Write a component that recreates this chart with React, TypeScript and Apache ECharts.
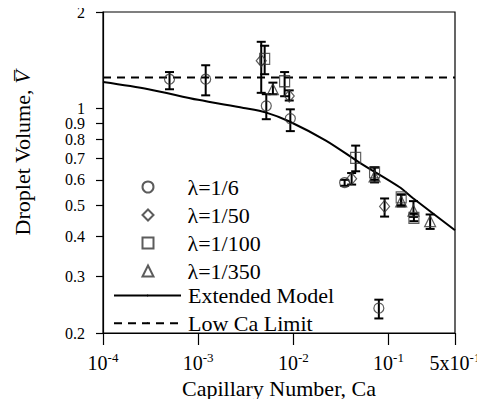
import React, { useEffect, useRef } from "react";
import * as echarts from "echarts";

// [Ca, V, low, high]
const lambda6: number[][] = [
  [5.0e-4, 1.235, 1.149, 1.3],
  [1.2e-3, 1.235, 1.1, 1.365],
  [5.2e-3, 1.02, 0.927, 1.109],
  [9.3e-3, 0.931, 0.851, 0.995],
  [0.0346, 0.588, 0.575, 0.6],
  [0.0792, 0.239, 0.222, 0.254],
];
const lambda50: number[][] = [
  [4.6e-3, 1.41, 1.12, 1.615],
  [9.06e-3, 1.095, 1.06, 1.14],
  [0.041, 0.605, 0.58, 0.63],
  [0.091, 0.496, 0.461, 0.525],
];
const lambda100: number[][] = [
  [5.0e-3, 1.43, 1.28, 1.57],
  [8.1e-3, 1.217, 1.093, 1.3],
  [0.0452, 0.703, 0.638, 0.767],
  [0.0714, 0.633, 0.6, 0.656],
  [0.136, 0.529, 0.5, 0.54],
  [0.185, 0.457, 0.446, 0.47],
];
const lambda350: number[][] = [
  [6.1e-3, 1.149, 1.109, 1.205],
  [0.0714, 0.615, 0.589, 0.656],
  [0.136, 0.514, 0.496, 0.54],
  [0.183, 0.481, 0.46, 0.515],
  [0.274, 0.446, 0.422, 0.468],
];
const modelCurve: number[][] = [
  [1e-4, 1.21],
  [3e-4, 1.15],
  [1e-3, 1.065],
  [3e-3, 1.005],
  [5.2e-3, 0.972],
  [9.1e-3, 0.912],
  [0.022, 0.795],
  [0.05, 0.678],
  [0.13, 0.57],
  [0.18, 0.527],
  [0.5, 0.418],
];
const lowCaLimit: number[][] = [
  [1e-4, 1.25],
  [0.5, 1.25],
];
const xTicks = [1e-4, 1e-3, 1e-2, 1e-1, 0.5];
const yTicks = [0.2, 0.3, 0.4, 0.5, 0.6, 0.7, 0.8, 0.9, 1, 2];
const markerNames = ["λ=1/6", "λ=1/50", "λ=1/100", "λ=1/350"];
const lineNames = ["Extended Model", "Low Ca Limit"];

const FONT = "'Liberation Serif', 'Times New Roman', serif";
const INK = "#000";
const MARK = "#333";

function xLabel(v: number): string {
  if (Math.abs(v - 0.5) < 1e-6) return "{b|5x10}{s|-1}";
  const e = Math.round(Math.log10(v));
  return "{b|10}{s|" + e + "}";
}
function yLabel(v: number): string {
  return String(Math.round(v * 10) / 10);
}

function errorBarSeries(data: number[][], z: number) {
  return {
    type: "custom",
    z,
    silent: true,
    data,
    encode: { x: 0, y: [1, 2, 3] },
    renderItem: (params: any, api: any) => {
      const x = api.value(0);
      const lo = api.coord([x, api.value(2)]);
      const hi = api.coord([x, api.value(3)]);
      const w = 4.5;
      const st = { stroke: INK, lineWidth: 2 };
      return {
        type: "group",
        children: [
          { type: "line", shape: { x1: lo[0], y1: lo[1], x2: hi[0], y2: hi[1] }, style: st },
          { type: "line", shape: { x1: lo[0] - w, y1: lo[1], x2: lo[0] + w, y2: lo[1] }, style: st },
          { type: "line", shape: { x1: hi[0] - w, y1: hi[1], x2: hi[0] + w, y2: hi[1] }, style: st },
        ],
      };
    },
  };
}

function scatter(name: string, data: number[][], symbol: string, size: any) {
  return {
    name,
    type: "scatter",
    z: 5,
    data: data.map((d) => [d[0], d[1]]),
    symbol,
    symbolSize: size,
    itemStyle: { color: "rgba(255,255,255,0)", borderColor: MARK, borderWidth: 1.2 },
  };
}

const legendText = { fontFamily: FONT, fontSize: 22, color: INK, lineHeight: 21 };

export default function App() {
  const ref = useRef<HTMLDivElement>(null);
  useEffect(() => {
    if (!ref.current) return;
    const chart = echarts.init(ref.current, null, { renderer: "svg" });
    chart.setOption({
      animation: false,
      textStyle: { fontFamily: FONT, color: INK },
      grid: { left: 103, right: 30, top: 12, bottom: 74, show: true, borderColor: INK, borderWidth: 1.2, backgroundColor: "transparent" },
      legend: [
        {
          data: markerNames,
          orient: "vertical",
          left: 141.5,
          top: 176,
          padding: 0,
          itemWidth: 11,
          itemHeight: 11,
          itemGap: 6,
          textStyle: { ...legendText, padding: [0, 0, 0, 29] },
          selectedMode: false,
        },
        {
          data: lineNames,
          orient: "vertical",
          left: 113,
          top: 284.5,
          padding: 0,
          itemWidth: 67,
          itemHeight: 2,
          itemGap: 5.7,
          textStyle: { ...legendText, padding: [0, 0, 0, 2] },
          selectedMode: false,
        },
      ],
      xAxis: {
        type: "log",
        logBase: 10,
        min: 1e-4,
        max: 0.5,
        axisLine: { lineStyle: { color: INK, width: 1.2 } },
        axisTick: { customValues: xTicks, length: 12, lineStyle: { color: INK, width: 1.2 } },
        minorTick: { show: false },
        splitLine: { show: false },
        axisLabel: {
          customValues: xTicks,
          margin: 18,
          formatter: (v: number) => xLabel(v),
          rich: {
            b: { fontFamily: FONT, fontSize: 20, color: INK },
            s: { fontFamily: FONT, fontSize: 13, color: INK, verticalAlign: "top", padding: [0, 0, 10, 0] },
          },
        },
        name: "Capillary Number, Ca",
        nameLocation: "middle",
        nameGap: 40,
        nameTextStyle: { fontFamily: FONT, fontSize: 22, color: INK },
      },
      yAxis: {
        type: "log",
        logBase: 10,
        min: 0.2,
        max: 2,
        axisLine: { lineStyle: { color: INK, width: 1.2 } },
        axisTick: { customValues: yTicks, length: 7, lineStyle: { color: INK, width: 1.2 } },
        minorTick: { show: false },
        splitLine: { show: false },
        axisLabel: {
          customValues: yTicks,
          margin: 18,
          fontFamily: FONT,
          fontSize: 16,
          lineHeight: 12,
          color: INK,
          formatter: (v: number) => yLabel(v),
        },
      },
      graphic: [
        {
          type: "text",
          x: 22,
          y: 153,
          rotation: Math.PI / 2,
          style: {
            text: "Droplet Volume, {v|V\u0305}",
            fontFamily: FONT,
            fontSize: 22,
            fill: INK,
            align: "center",
            verticalAlign: "middle",
            rich: { v: { fontFamily: FONT, fontSize: 22, fontStyle: "italic", fill: INK } },
          },
        },
      ],
      series: [
        errorBarSeries(lambda6, 3),
        errorBarSeries(lambda50, 3),
        errorBarSeries(lambda100, 3),
        errorBarSeries(lambda350, 3),
        scatter("λ=1/6", lambda6, "circle", 10),
        scatter("λ=1/50", lambda50, "diamond", [10, 12]),
        scatter("λ=1/100", lambda100, "rect", [10, 11]),
        scatter("λ=1/350", lambda350, "triangle", [11, 11]),
        {
          name: "Extended Model",
          type: "line",
          data: modelCurve,
          symbol: "none",
          smooth: 0.3,
          z: 4,
          lineStyle: { color: INK, width: 2 },
          itemStyle: { color: INK },
        },
        {
          name: "Low Ca Limit",
          type: "line",
          data: lowCaLimit,
          symbol: "none",
          z: 4,
          lineStyle: { color: INK, width: 2, type: [8, 6] },
          itemStyle: { color: INK },
        },
      ],
    });
    return () => chart.dispose();
  }, []);
  return <div ref={ref} style={{ width: 485, height: 407, margin: -8 }} />;
}
